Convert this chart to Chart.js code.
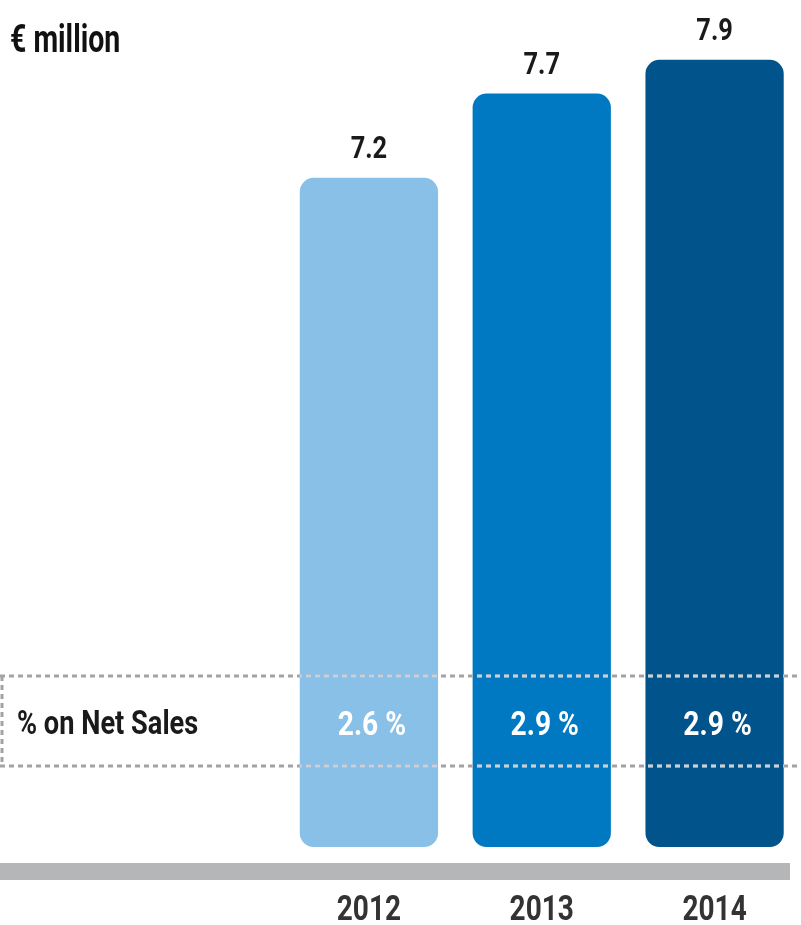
<!DOCTYPE html>
<html>
<head>
<meta charset="utf-8">
<script src="https://cdn.jsdelivr.net/npm/chart.js@4.4.1/dist/chart.umd.min.js"></script>
<style>
  html, body { margin: 0; padding: 0; background: #ffffff; }
  #wrap { width: 801px; height: 925px; position: relative; }
</style>
</head>
<body>
<div id="wrap"><canvas id="c" width="801" height="925"></canvas></div>
<script>
const years = ['2012', '2013', '2014'];
const values = [7.2, 7.7, 7.9];
const pctOnNetSales = ['2.6 %', '2.9 %', '2.9 %'];
const barColors = ['#88C0E7', '#0079C2', '#00538B'];
const unitLabel = '€ million';
const rowLabel = '% on Net Sales';
const axisMin = 3.23;
const axisMax = 8.0;

const FONT = 'Roboto, "Liberation Sans", sans-serif';

function drawText(ctx, str, x, y, size, color, align, sx) {
  ctx.save();
  ctx.font = 'bold ' + size + 'px ' + FONT;
  ctx.fillStyle = color;
  ctx.textBaseline = 'alphabetic';
  const w = ctx.measureText(str).width * sx;
  let left = x;
  if (align === 'center') left = x - w / 2;
  else if (align === 'right') left = x - w;
  ctx.translate(left, y);
  ctx.scale(sx, 1);
  ctx.textAlign = 'left';
  ctx.fillText(str, 0, 0);
  ctx.restore();
}

function dashLines(ctx, color, yTop, yBot, withVertical) {
  ctx.strokeStyle = color;
  ctx.lineWidth = 3;
  ctx.setLineDash([5, 4]);
  ctx.beginPath();
  ctx.moveTo(0, yTop); ctx.lineTo(801, yTop);
  ctx.moveTo(0, yBot); ctx.lineTo(801, yBot);
  if (withVertical) { ctx.moveTo(2, yTop); ctx.lineTo(2, yBot); }
  ctx.stroke();
}

const decor = {
  id: 'decor',
  beforeDatasetsDraw(chart) {
    const ctx = chart.ctx;
    ctx.save();
    ctx.fillStyle = '#B5B6B8';
    ctx.fillRect(0, 863, 790, 17);
    ctx.restore();
  },
  afterDatasetsDraw(chart) {
    const ctx = chart.ctx;
    const meta = chart.getDatasetMeta(0);
    const yTop = 676, yBot = 766;

    ctx.save();
    dashLines(ctx, '#A3A3A3', yTop, yBot, true);
    ctx.restore();

    meta.data.forEach((bar) => {
      const p = bar.getProps(['x', 'width'], true);
      ctx.save();
      ctx.beginPath();
      ctx.rect(p.x - p.width / 2, 0, p.width, 925);
      ctx.clip();
      dashLines(ctx, 'rgba(215,228,240,0.7)', yTop, yBot, false);
      ctx.restore();
    });

    drawText(ctx, unitLabel, 10, 52, 39, '#111111', 'left', 0.73);
    drawText(ctx, rowLabel, 17, 734, 34, '#1a1a1a', 'left', 0.8);

    meta.data.forEach((bar, i) => {
      const p = bar.getProps(['x', 'y'], true);
      drawText(ctx, String(values[i]), p.x, p.y - 20, 31, '#1a1a1a', 'center', 0.82);
      drawText(ctx, pctOnNetSales[i], p.x + 3, 735, 34, '#ffffff', 'center', 0.83);
      drawText(ctx, years[i], p.x, 920, 35, '#333333', 'center', 0.8);
    });
  }
};

new Chart(document.getElementById('c'), {
  type: 'bar',
  data: {
    labels: years,
    datasets: [{
      data: values,
      base: axisMin,
      backgroundColor: barColors,
      borderRadius: 14,
      borderSkipped: false,
      barPercentage: 0.8,
      categoryPercentage: 1.0
    }]
  },
  options: {
    responsive: false,
    animation: false,
    events: [],
    layout: { padding: { left: 282.5, right: 0, top: 43, bottom: 78 } },
    plugins: { legend: { display: false }, tooltip: { enabled: false }, title: { display: false } },
    scales: {
      x: { display: false },
      y: { display: false, min: axisMin, max: axisMax }
    }
  },
  plugins: [decor]
});
</script>
</body>
</html>
